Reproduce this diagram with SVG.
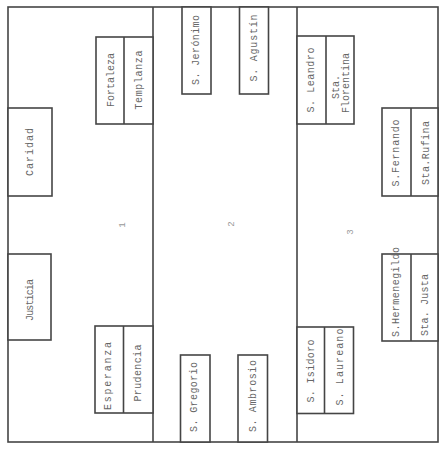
<svg xmlns="http://www.w3.org/2000/svg" width="443" height="450" viewBox="0 0 443 450">
<style>
.ln{fill:none;stroke:#454545;stroke-width:1.6}
.bx{fill:#fff;stroke:#454545;stroke-width:1.6}
text{font-family:"Liberation Mono","DejaVu Sans Mono",monospace;font-size:10px;fill:#666;text-anchor:middle;dominant-baseline:central}
.n{font-size:9px;fill:#999}
</style>
<rect width="443" height="450" fill="#fff"/>
<g id="frame">
<rect class="ln" x="8" y="7" width="430" height="435"/>
<line class="ln" x1="153" y1="7" x2="153" y2="442"/>
<line class="ln" x1="297" y1="7" x2="297" y2="442"/>
</g>
<g id="connectors"/>
<g id="fortaleza-templanza">
<rect class="bx" x="96" y="37" width="57" height="87"/>
<line class="ln" x1="124" y1="37" x2="124" y2="124"/>
<text transform="translate(111,80) rotate(-90)" textLength="54" lengthAdjust="spacing">Fortaleza</text>
<text transform="translate(139,80) rotate(-90)" textLength="59" lengthAdjust="spacing">Templanza</text>
</g>
<g id="caridad">
<rect class="bx" x="8" y="108" width="44" height="88"/>
<text transform="translate(30,152) rotate(-90)" textLength="48" lengthAdjust="spacing">Caridad</text>
</g>
<g id="justicia">
<rect class="bx" x="8" y="254" width="43" height="86"/>
<text transform="translate(30,300) rotate(-90)" textLength="42" lengthAdjust="spacing">Justicia</text>
</g>
<g id="esperanza-prudencia">
<rect class="bx" x="95" y="326" width="58" height="87"/>
<line class="ln" x1="123.5" y1="326" x2="123.5" y2="413"/>
<text transform="translate(108,376) rotate(-90)" textLength="68" lengthAdjust="spacing">Esperanza</text>
<text transform="translate(138,373) rotate(-90)" textLength="57" lengthAdjust="spacing">Prudencia</text>
</g>
<g id="s-jeronimo">
<rect class="bx" x="182" y="7" width="29" height="87"/>
<text transform="translate(196.5,50) rotate(-90)" textLength="70" lengthAdjust="spacing">S. Jerónimo</text>
</g>
<g id="s-agustin">
<rect class="bx" x="239.5" y="7" width="29" height="87"/>
<text transform="translate(254.5,48) rotate(-90)" textLength="67" lengthAdjust="spacing">S. Agustín</text>
</g>
<g id="s-gregorio">
<rect class="bx" x="180.5" y="355" width="29.5" height="87"/>
<text transform="translate(194,397) rotate(-90)" textLength="70" lengthAdjust="spacing">S. Gregorio</text>
</g>
<g id="s-ambrosio">
<rect class="bx" x="238" y="355" width="29.5" height="87"/>
<text transform="translate(253,396) rotate(-90)" textLength="72" lengthAdjust="spacing">S. Ambrosio</text>
</g>
<g id="leandro-florentina">
<rect class="bx" x="297" y="36" width="57" height="88"/>
<line class="ln" x1="326" y1="36" x2="326" y2="124"/>
<text transform="translate(311.5,80) rotate(-90)" textLength="65" lengthAdjust="spacing">S. Leandro</text>
<text transform="translate(336,87) rotate(-90)">Sta.</text>
<text transform="translate(346,83) rotate(-90)" textLength="60" lengthAdjust="spacing">Florentina</text>
</g>
<g id="fernando-rufina">
<rect class="bx" x="382" y="108" width="56" height="88"/>
<line class="ln" x1="411" y1="108" x2="411" y2="196"/>
<text transform="translate(396.5,153) rotate(-90)" textLength="67" lengthAdjust="spacing">S.Fernando</text>
<text transform="translate(426,153) rotate(-90)" textLength="64" lengthAdjust="spacing">Sta.Rufina</text>
</g>
<g id="hermenegildo-justa">
<rect class="bx" x="382" y="254" width="56" height="87"/>
<line class="ln" x1="411" y1="254" x2="411" y2="341"/>
<text transform="translate(396.5,292) rotate(-90)" textLength="90" lengthAdjust="spacing">S.Hermenegildo</text>
<text transform="translate(425,305) rotate(-90)" textLength="62" lengthAdjust="spacing">Sta. Justa</text>
</g>
<g id="isidoro-laureano">
<rect class="bx" x="297" y="327" width="56.5" height="86.5"/>
<line class="ln" x1="324.5" y1="327" x2="324.5" y2="413.5"/>
<text transform="translate(311.5,371) rotate(-90)" textLength="63" lengthAdjust="spacing">S. Isidoro</text>
<text transform="translate(340,367) rotate(-90)" textLength="77" lengthAdjust="spacing">S. Laureano</text>
</g>
<g id="labels">
<text class="n" transform="translate(123,225) rotate(-90)">1</text>
<text class="n" transform="translate(232,224) rotate(-90)">2</text>
<text class="n" transform="translate(351,232) rotate(-90)">3</text>
</g>
</svg>
